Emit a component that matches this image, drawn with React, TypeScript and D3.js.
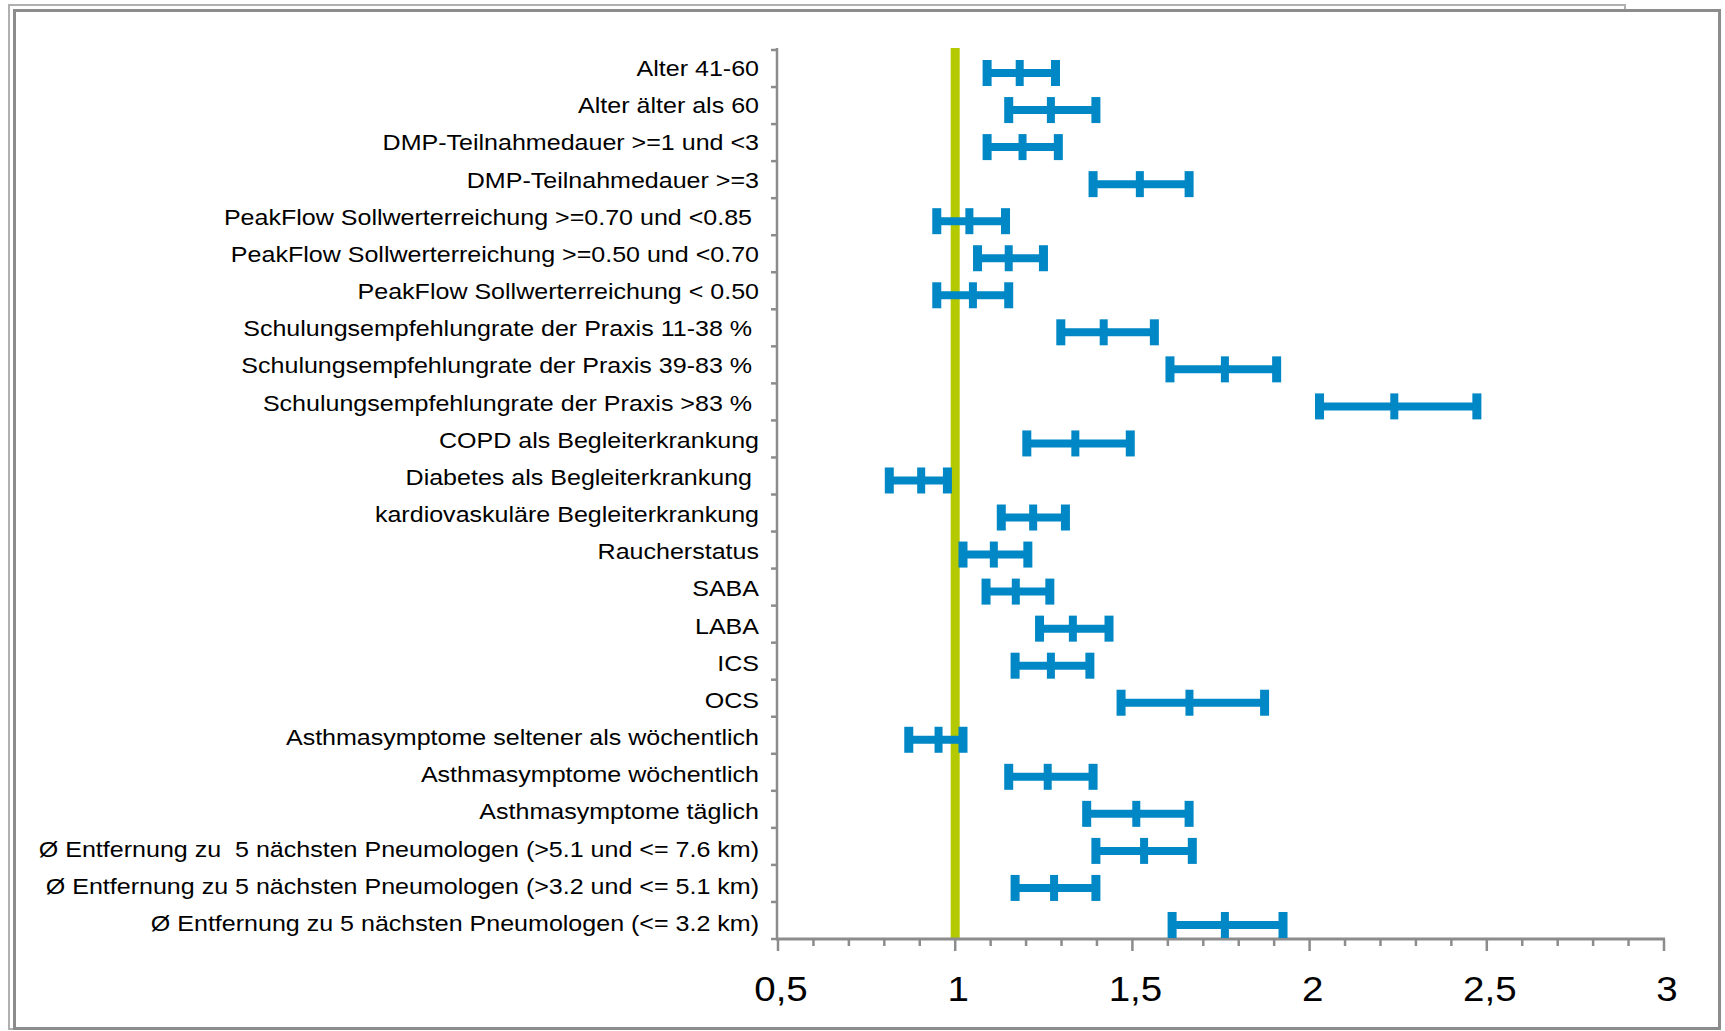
import React from "react";
import * as d3 from "d3";

const categories: string[] = [
  "Alter 41-60",
  "Alter älter als 60",
  "DMP-Teilnahmedauer >=1 und <3",
  "DMP-Teilnahmedauer >=3",
  "PeakFlow Sollwerterreichung >=0.70 und <0.85 ",
  "PeakFlow Sollwerterreichung >=0.50 und <0.70",
  "PeakFlow Sollwerterreichung < 0.50",
  "Schulungsempfehlungrate der Praxis 11-38 % ",
  "Schulungsempfehlungrate der Praxis 39-83 % ",
  "Schulungsempfehlungrate der Praxis >83 % ",
  "COPD als Begleiterkrankung",
  "Diabetes als Begleiterkrankung ",
  "kardiovaskuläre Begleiterkrankung",
  "Raucherstatus",
  "SABA",
  "LABA",
  "ICS",
  "OCS",
  "Asthmasymptome seltener als wöchentlich",
  "Asthmasymptome wöchentlich",
  "Asthmasymptome täglich",
  "Ø Entfernung zu  5 nächsten Pneumologen (>5.1 und <= 7.6 km)",
  "Ø Entfernung zu 5 nächsten Pneumologen (>3.2 und <= 5.1 km)",
  "Ø Entfernung zu 5 nächsten Pneumologen (<= 3.2 km)",
];

const estimate: number[] = [
  1.182, 1.27, 1.19, 1.521, 1.04, 1.151, 1.05, 1.419, 1.761, 2.239, 1.339, 0.904,
  1.22, 1.109, 1.171, 1.332, 1.27, 1.661, 0.953, 1.261, 1.511, 1.533, 1.279, 1.761,
];
const lower: number[] = [
  1.09, 1.151, 1.09, 1.389, 0.948, 1.063, 0.948, 1.298, 1.606, 2.028, 1.202, 0.814,
  1.13, 1.022, 1.087, 1.238, 1.169, 1.468, 0.869, 1.151, 1.371, 1.397, 1.169, 1.612,
];
const upper: number[] = [
  1.283, 1.397, 1.291, 1.66, 1.142, 1.249, 1.151, 1.562, 1.907, 2.472, 1.494, 0.978,
  1.311, 1.205, 1.267, 1.434, 1.38, 1.873, 1.022, 1.389, 1.66, 1.669, 1.397, 1.925,
];

const xTickLabels: string[] = ["0,5", "1", "1,5", "2", "2,5", "3"];
const xTickValues: number[] = [0.5, 1, 1.5, 2, 2.5, 3];
const referenceValue = 1;

export default function App() {
  const W = 1725;
  const H = 1031;
  const x = d3.scaleLinear().domain([0.5, 3]).range([778, 1664]);
  const y = d3.scaleBand<string>().domain(categories).range([50, 939]).padding(0);
  const yLabel = d3.scalePoint<string>().domain(categories).range([68, 923]);
  const bw = y.bandwidth();
  const axisColor = "#8c8c8c";
  const blue = "#0087c5";
  const minorTicks = d3.range(5, 31).map((v) => v / 10).filter((v) => Math.abs(v * 2 - Math.round(v * 2)) > 1e-6);

  return (
    <svg
      width={W}
      height={H}
      style={{ position: "absolute", left: 0, top: 0, background: "#fff" }}
      fontFamily="'Liberation Sans', Arial, sans-serif"
    >
      <rect x={0} y={0} width={W} height={H} fill="#fff" />
      <rect x={9} y={5} width={1616} height={1024} fill="none" stroke="#b0b0b0" strokeWidth={2} />
      <rect x={14.5} y={10.5} width={1705} height={1018} fill="#fff" stroke={axisColor} strokeWidth={3} />

      {/* y axis */}
      <line x1={777} x2={777} y1={48} y2={939} stroke={axisColor} strokeWidth={2.5} />
      {d3.range(categories.length + 1).map((i) => {
        const yy = 50 + i * bw;
        return <line key={"yt" + i} x1={771} x2={777} y1={yy} y2={yy} stroke={axisColor} strokeWidth={2.5} />;
      })}

      {/* reference line */}
      <line x1={x(referenceValue)} x2={x(referenceValue)} y1={48} y2={939} stroke="#b5c900" strokeWidth={9} />

      {/* x axis */}
      <line x1={776} x2={1665} y1={939} y2={939} stroke={axisColor} strokeWidth={3} />
      {xTickValues.map((v) => (
        <line key={"mt" + v} x1={x(v)} x2={x(v)} y1={939} y2={951} stroke={axisColor} strokeWidth={2.5} />
      ))}
      {minorTicks.map((v) => (
        <line key={"nt" + v} x1={x(v)} x2={x(v)} y1={939} y2={946} stroke={axisColor} strokeWidth={2.5} />
      ))}
      {xTickValues.map((v, i) => (
        <text
          key={"tl" + v}
          transform={`translate(${x(v) + 3},1001) scale(1.1,1)`}
          textAnchor="middle"
          fontSize={35}
          fill="#000"
        >
          {xTickLabels[i]}
        </text>
      ))}

      {/* category labels */}
      {categories.map((c) => (
        <text
          key={"cl" + c}
          transform={`translate(759,${(yLabel(c) as number) + 8}) scale(1.165,1)`}
          textAnchor="end"
          fontSize={21.5}
          fill="#000"
          style={{ whiteSpace: "pre" }}
        >
          {c}
        </text>
      ))}

      {/* error bars */}
      {categories.map((c, i) => {
        const cy = (y(c) as number) + bw / 2 + 4.5;
        const x0 = x(lower[i]);
        const x1 = x(upper[i]);
        const xm = x(estimate[i]);
        return (
          <g key={"eb" + i} fill={blue}>
            <line x1={x0} x2={x1} y1={cy} y2={cy} stroke={blue} strokeWidth={8} />
            <rect x={x0 - 4.5} y={cy - 13} width={9} height={26} />
            <rect x={x1 - 4.5} y={cy - 13} width={9} height={26} />
            <rect x={xm - 4} y={cy - 13} width={8} height={26} />
          </g>
        );
      })}
    </svg>
  );
}
